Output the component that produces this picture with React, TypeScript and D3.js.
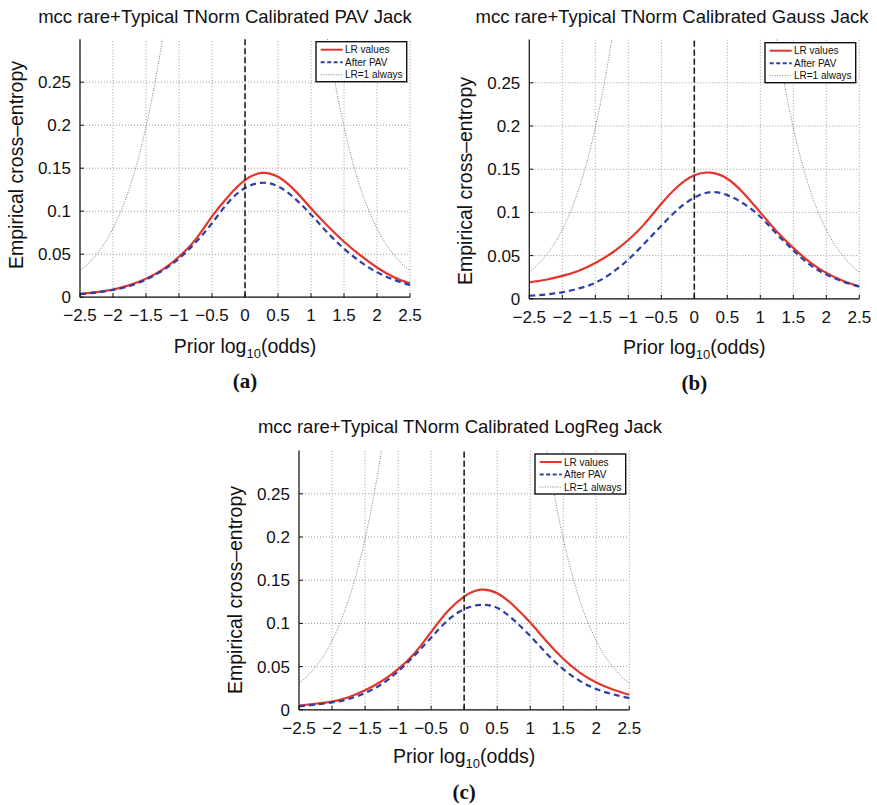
import React from 'react';
import * as d3 from 'd3';

// prior log10(odds) where the curves were read
const priorLogOdds = [-2.5, -2.25, -2, -1.75, -1.5, -1.25, -1, -0.75, -0.5, -0.25, 0, 0.25, 0.5, 0.75, 1, 1.25, 1.5, 1.75, 2, 2.25, 2.5];

// (a) PAV Jack
const pavLR = [0.004, 0.006, 0.009, 0.014, 0.0215, 0.032, 0.047, 0.067, 0.094, 0.1175, 0.136, 0.1445, 0.140, 0.1245, 0.1035, 0.083, 0.0645, 0.0485, 0.0345, 0.0235, 0.016];
const pavAfter = [0.0035, 0.0055, 0.0085, 0.013, 0.0205, 0.031, 0.045, 0.0635, 0.086, 0.1105, 0.127, 0.133, 0.129, 0.115, 0.096, 0.075, 0.0565, 0.041, 0.029, 0.0205, 0.014];
// (b) Gauss Jack
const gaussLR = [0.019, 0.022, 0.0265, 0.0325, 0.0415, 0.053, 0.068, 0.087, 0.110, 0.130, 0.143, 0.146, 0.139, 0.122, 0.100, 0.078, 0.059, 0.0425, 0.030, 0.021, 0.0145];
const gaussAfter = [0.0035, 0.005, 0.0075, 0.012, 0.0185, 0.030, 0.0455, 0.0645, 0.0845, 0.1035, 0.117, 0.1235, 0.120, 0.110, 0.095, 0.075, 0.056, 0.0395, 0.028, 0.020, 0.014];
// (c) LogReg Jack
const logRegLR = [0.005, 0.007, 0.0095, 0.0145, 0.0225, 0.033, 0.047, 0.0655, 0.090, 0.114, 0.131, 0.139, 0.135, 0.1205, 0.101, 0.079, 0.059, 0.043, 0.0315, 0.0235, 0.0175];
const logRegAfter = [0.004, 0.006, 0.0085, 0.0125, 0.0195, 0.0295, 0.0445, 0.063, 0.0835, 0.1035, 0.1165, 0.1215, 0.118, 0.104, 0.0855, 0.065, 0.047, 0.0335, 0.024, 0.018, 0.0135];

// LR=1 always reference (same in all panels, leaves the axes above 0.3)
const refLeftX = [-2.5, -2.375, -2.25, -2.125, -2, -1.875, -1.75, -1.625, -1.5, -1.375, -1.25];
const refLeftY = [0.031, 0.039, 0.050, 0.063, 0.080, 0.101, 0.127, 0.159, 0.198, 0.245, 0.300];
const refRightX = [1.25, 1.375, 1.5, 1.625, 1.75, 1.875, 2, 2.125, 2.25, 2.375, 2.5];
const refRightY = [0.300, 0.245, 0.198, 0.159, 0.127, 0.101, 0.080, 0.063, 0.050, 0.039, 0.031];

const xTicks = [-2.5, -2, -1.5, -1, -0.5, 0, 0.5, 1, 1.5, 2, 2.5];
const yTicks = [0, 0.05, 0.1, 0.15, 0.2, 0.25];
const legendLabels = ['LR values', 'After PAV', 'LR=1 always'];
const titles = [
  'mcc rare+Typical TNorm Calibrated PAV Jack',
  'mcc rare+Typical TNorm Calibrated Gauss Jack',
  'mcc rare+Typical TNorm Calibrated LogReg Jack',
];
const letters = ['(a)', '(b)', '(c)'];
const lrSeries = [pavLR, gaussLR, logRegLR];
const afterSeries = [pavAfter, gaussAfter, logRegAfter];

const layouts = [
  { left: 80, right: 410, top: 39.2, bottom: 297.2, titleX: 225, titleY: 23, ylabX: 22.7, ylabY: 165, xlabY: 353, letterY: 388, lx: 316, ly: 41.7 },
  { left: 529.3, right: 859.3, top: 39.6, bottom: 298.8, titleX: 672, titleY: 23, ylabX: 471.7, ylabY: 181, xlabY: 354, letterY: 390, lx: 765, ly: 42.7 },
  { left: 299, right: 629.3, top: 450.6, bottom: 709.8, titleX: 460, titleY: 433, ylabX: 241.7, ylabY: 590, xlabY: 763, letterY: 799, lx: 535, ly: 454 },
];

const RED = '#e5342a';
const BLUE = '#2e40a6';
const FONT = '"Liberation Sans", Arial, Helvetica, sans-serif';

const fmt = (v: number) => (v < 0 ? '\u2212' : '') + String(Math.abs(v));

const Panel = ({ i }: { i: number }) => {
  const L = layouts[i];
  const x = d3.scaleLinear().domain([-2.5, 2.5]).range([L.left, L.right]);
  const y = d3.scaleLinear().domain([0, 0.3]).range([L.bottom, L.top]);
  const line = d3.line<[number, number]>().x(d => x(d[0])).y(d => y(d[1])).curve(d3.curveNatural);
  const lr = line(priorLogOdds.map((p, k) => [p, lrSeries[i][k]]));
  const after = line(priorLogOdds.map((p, k) => [p, afterSeries[i][k]]));
  const refL = line(refLeftX.map((p, k) => [p, refLeftY[k]]));
  const refR = line(refRightX.map((p, k) => [p, refRightY[k]]));
  const cx = (L.left + L.right) / 2;

  return (
    <g fontFamily={FONT}>
      <text x={L.titleX} y={L.titleY} fontSize={18.5} textAnchor="middle" fill="#111">{titles[i]}</text>
      {/* grid */}
      {xTicks.map(t => (
        <line key={'gx' + t} x1={x(t)} x2={x(t)} y1={L.bottom} y2={L.top} stroke="#9a9a9a" strokeWidth={1} strokeDasharray="1,2" />
      ))}
      {yTicks.map(t => (
        <line key={'gy' + t} x1={L.left} x2={L.right} y1={y(t)} y2={y(t)} stroke="#9a9a9a" strokeWidth={1} strokeDasharray="1,2" />
      ))}
      {/* LR=1 reference */}
      <path d={refL || ''} fill="none" stroke="#7a7a7a" strokeWidth={1} strokeDasharray="1,1.5" />
      <path d={refR || ''} fill="none" stroke="#7a7a7a" strokeWidth={1} strokeDasharray="1,1.5" />
      {/* curves */}
      <path d={lr || ''} fill="none" stroke={RED} strokeWidth={2.2} />
      <path d={after || ''} fill="none" stroke={BLUE} strokeWidth={2.2} strokeDasharray="6,4" />
      {/* zero prior line */}
      <line x1={x(0)} x2={x(0)} y1={L.bottom} y2={L.top} stroke="#222" strokeWidth={1.6} strokeDasharray="6,3" />
      {/* axes */}
      <line x1={L.left} x2={L.right} y1={L.bottom} y2={L.bottom} stroke="#111" strokeWidth={1.2} />
      <line x1={L.left} x2={L.left} y1={L.bottom} y2={L.top} stroke="#111" strokeWidth={1.2} />
      {xTicks.map(t => (
        <g key={'tx' + t}>
          <line x1={x(t)} x2={x(t)} y1={L.bottom} y2={L.bottom - 4} stroke="#111" strokeWidth={1} />
          <text x={x(t)} y={L.bottom + 24} fontSize={17} textAnchor="middle" fill="#111">{fmt(t)}</text>
        </g>
      ))}
      {yTicks.map(t => (
        <g key={'ty' + t}>
          <line x1={L.left} x2={L.left + 4} y1={y(t)} y2={y(t)} stroke="#111" strokeWidth={1} />
          <text x={L.left - 9} y={y(t) + 6} fontSize={17} textAnchor="end" fill="#111">{fmt(t)}</text>
        </g>
      ))}
      {/* labels */}
      <text x={cx} y={L.xlabY} fontSize={19.5} textAnchor="middle" fill="#111">
        <tspan>Prior log</tspan>
        <tspan fontSize={13} dy={5}>10</tspan>
        <tspan dy={-5}>(odds)</tspan>
      </text>
      <text transform={`translate(${L.ylabX},${L.ylabY}) rotate(-90)`} fontSize={19.5} textAnchor="middle" fill="#111">Empirical cross&#8211;entropy</text>
      <text x={cx} y={L.letterY} fontSize={21} fontWeight="bold" textAnchor="middle" fontFamily='"Liberation Serif", "Times New Roman", serif' fill="#111">{letters[i]}</text>
      {/* legend */}
      <g transform={`translate(${L.lx},${L.ly})`}>
        <rect x={0} y={0} width={90.7} height={40} fill="#fff" stroke="#111" strokeWidth={1.4} />
        {legendLabels.map((lab, k) => {
          const ry = 8 + k * 12.5;
          const stroke = k === 0 ? RED : k === 1 ? BLUE : '#7a7a7a';
          const dash = k === 0 ? undefined : k === 1 ? '4,2.5' : '1,1.5';
          return (
            <g key={lab}>
              <line x1={4.7} x2={26.7} y1={ry} y2={ry} stroke={stroke} strokeWidth={k === 2 ? 1 : 2} strokeDasharray={dash} />
              <text x={29} y={ry + 3.6} fontSize={10} fill="#111">{lab}</text>
            </g>
          );
        })}
      </g>
    </g>
  );
};

export default function App() {
  return (
    <svg width={877} height={805} style={{ position: 'absolute', left: 0, top: 0, background: '#fff' }}>
      <rect width={877} height={805} fill="#fff" />
      {[0, 1, 2].map(i => <Panel key={i} i={i} />)}
    </svg>
  );
}
